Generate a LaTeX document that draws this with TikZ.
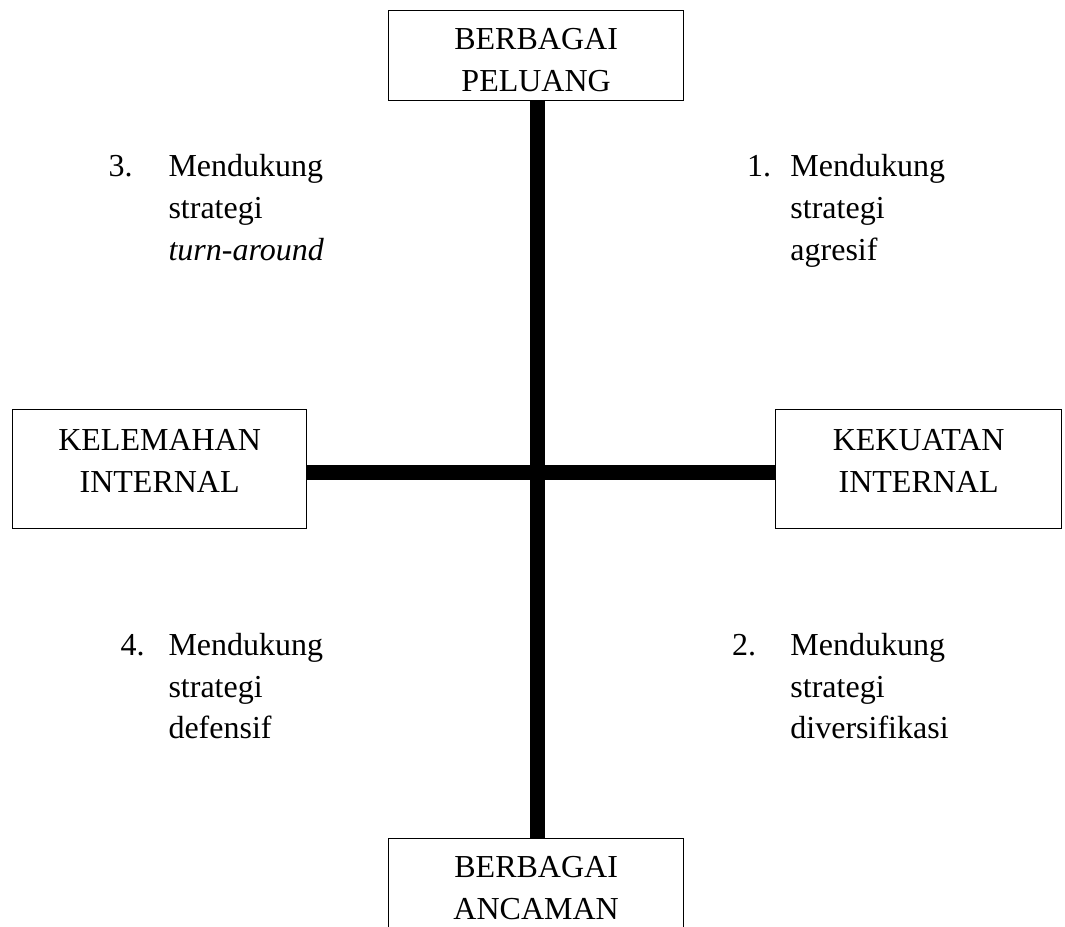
\documentclass[tikz,border=0pt]{standalone}
\usepackage{fontspec}
\setmainfont{Liberation Serif}
\usetikzlibrary{positioning}

\begin{document}
\begin{tikzpicture}[x=0.4pt,y=-0.4pt,font=\fontsize{12.8pt}{16.6pt}\selectfont,
        kotak/.style={draw,line width=0.5pt,inner sep=0pt,anchor=north west,align=center},
        kuadran/.style={inner sep=0pt,anchor=base west},
        sumbu/.style={line width=6.2pt}]
        \clip (0,0) rectangle (1065,926);
        \node[kotak, minimum width=118pt, text height=15.6pt, text depth=20.4pt] (peluang) at (388,10) {\begin{tabular}[t]{@{}c@{}}BERBAGAI\\PELUANG\end{tabular}};
        \node[kotak, minimum width=118pt, text height=15.6pt, text depth=20.4pt] (ancaman) at (388,838) {\begin{tabular}[t]{@{}c@{}}BERBAGAI\\ANCAMAN\end{tabular}};
        \node[kotak, minimum width=117.6pt, text height=16.4pt, text depth=31.2pt] (kelemahan) at (12,409) {\begin{tabular}[t]{@{}c@{}}KELEMAHAN\\INTERNAL\end{tabular}};
        \node[kotak, minimum width=114.4pt, text height=16.4pt, text depth=31.2pt] (kekuatan) at (775,409) {\begin{tabular}[t]{@{}c@{}}KEKUATAN\\INTERNAL\end{tabular}};
        \coordinate (pusat) at (537.7,472.3);
        \draw[sumbu] (peluang.south -| pusat) -- (ancaman.north -| pusat);
        \draw[sumbu] (kelemahan.east |- pusat) -- (kekuatan.west |- pusat);
        % kuadran
        \node[kuadran] (q3) at (108,177) {\begin{tabular}[t]{@{}l@{}l@{}}\makebox[24pt][l]{3.} & Mendukung\\ & strategi\\ & \textit{turn-around}\end{tabular}};
        \node[kuadran] (q1) at (746.7,177) {\begin{tabular}[t]{@{}l@{}l@{}}\makebox[17.3pt][l]{1.} & Mendukung\\ & strategi\\ & agresif\end{tabular}};
        \node[kuadran] (q4) at (120,655.5) {\begin{tabular}[t]{@{}l@{}l@{}}\makebox[19.2pt][l]{4.} & Mendukung\\ & strategi\\ & defensif\end{tabular}};
        \node[kuadran] (q2) at (731.7,655.5) {\begin{tabular}[t]{@{}l@{}l@{}}\makebox[23.3pt][l]{2.} & Mendukung\\ & strategi\\ & diversifikasi\end{tabular}};
\end{tikzpicture}
\end{document}
